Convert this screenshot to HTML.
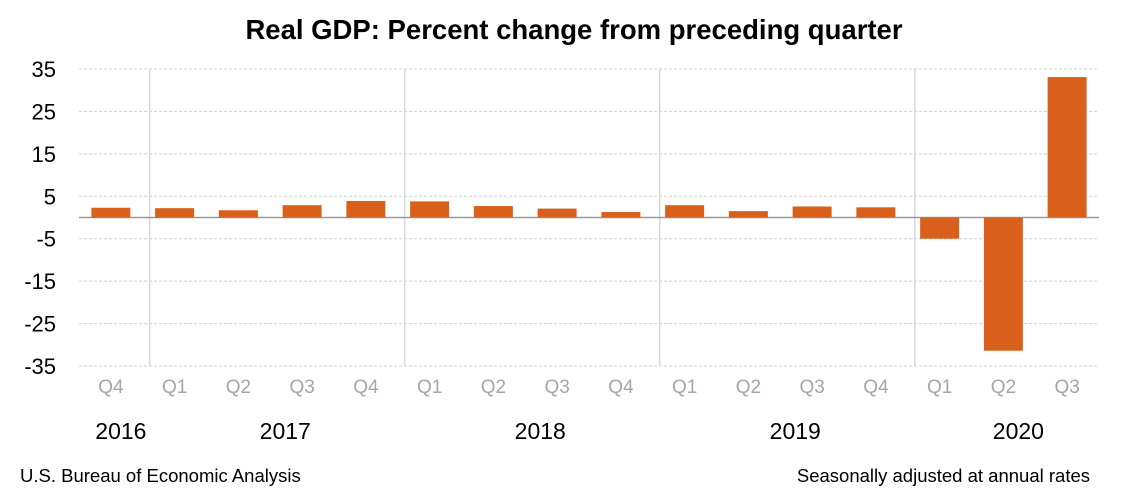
<!DOCTYPE html>
<html><head><meta charset="utf-8"><style>
body{margin:0;background:#fff;}
svg text{font-family:"Liberation Sans",sans-serif;}
</style></head><body>
<svg width="1140" height="492" xmlns="http://www.w3.org/2000/svg">
<text x="574" y="39" text-anchor="middle" font-size="27.5" font-weight="bold" fill="#000">Real GDP:  Percent change from preceding quarter</text>
<g id="grid"></g>
<g id="bars"></g>
<g id="labels"></g>
<text x="20" y="482" font-size="18.5" fill="#000">U.S. Bureau of Economic Analysis</text>
<text x="1090" y="482" text-anchor="end" font-size="18.5" fill="#000">Seasonally adjusted at annual rates</text>
</svg>
<script>
const quarters=["Q4","Q1","Q2","Q3","Q4","Q1","Q2","Q3","Q4","Q1","Q2","Q3","Q4","Q1","Q2","Q3"];
const values=[2.3,2.2,1.7,2.9,3.9,3.8,2.7,2.1,1.3,2.9,1.5,2.6,2.4,-5.0,-31.4,33.1];
const yTicks=[35,25,15,5,-5,-15,-25,-35];
const years=["2016","2017","2018","2019","2020"];
const yearStart=[0,1,5,9,13];
const yearCount=[1,4,4,4,3];
const NS="http://www.w3.org/2000/svg";
const L=79,R=1099,T=69,B=366,yMin=-35,yMax=35;
const slot=(R-L)/quarters.length;
const y=v=>T+(yMax-v)/(yMax-yMin)*(B-T);
const xc=i=>L+slot*(i+0.5);
function mk(tag,attrs,parent){const e=document.createElementNS(NS,tag);for(const k in attrs)e.setAttribute(k,attrs[k]);document.getElementById(parent).appendChild(e);return e;}
yTicks.forEach(t=>{
  const l=mk('line',{x1:L,x2:R,y1:y(t),y2:y(t),stroke:'#d0d0d0','stroke-dasharray':'3,2','stroke-width':1},'grid');
  
  
  const tx=mk('text',{x:56,y:y(t)+8,'text-anchor':'end','font-size':22,fill:'#000'},'labels');
  tx.textContent=t;
  
  
});
yearStart.slice(1).forEach(s=>{
  const sx=L+slot*s+7;
  const l=mk('line',{x1:sx,x2:sx,y1:T,y2:B,stroke:'#d9d9d9','stroke-width':1.5},'grid');
  
  
});
values.forEach((v,i)=>{
  const bw=39;
  const r=mk('rect',{x:xc(i)-bw/2,y:Math.min(y(v),y(0)),width:bw,height:Math.abs(y(v)-y(0)),fill:'#d9601a'},'bars');
  
  
});
const z=mk('line',{x1:L,x2:R,y1:y(0),y2:y(0),stroke:'#999','stroke-width':1.5},'grid');


quarters.forEach((q,i)=>{
  const t=mk('text',{x:xc(i),y:393,'text-anchor':'middle','font-size':19,fill:'#a6a6a6'},'labels');
  t.textContent=q;
  
  
});
years.forEach((yr,k)=>{
  const c=(xc(yearStart[k])+xc(yearStart[k]+yearCount[k]-1))/2+(k===0?10:15);
  const t=mk('text',{x:c,y:439,'text-anchor':'middle','font-size':23,fill:'#000'},'labels');
  t.textContent=yr;
  
  
});
</script>
</body></html>
